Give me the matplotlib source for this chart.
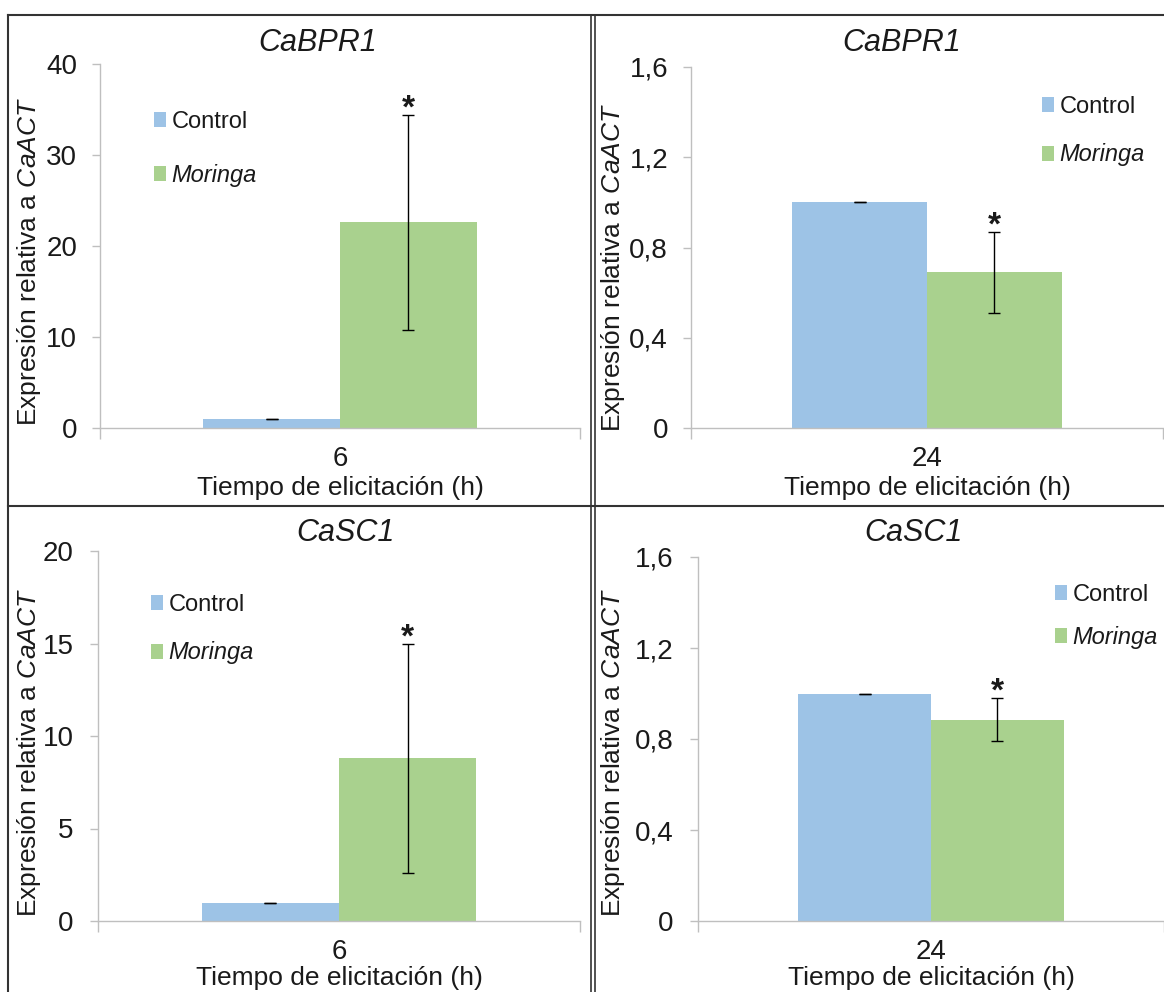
import matplotlib
matplotlib.use("Agg")
import matplotlib.pyplot as plt
from matplotlib.patches import Patch
from matplotlib.lines import Line2D
from matplotlib.ticker import FuncFormatter

# ---------------- data ----------------
titles = ["CaBPR1", "CaBPR1", "CaSC1", "CaSC1"]
times = ["6", "24", "6", "24"]
series = ["Control", "Moringa"]
control_vals = [1.0, 1.0, 1.0, 1.0]
control_err = [0.0, 0.0, 0.0, 0.0]
moringa_vals = [22.6, 0.69, 8.8, 0.885]
moringa_err = [11.8, 0.18, 6.2, 0.095]
ymax = [40, 1.6, 20, 1.6]
ystep = [10, 0.4, 5, 0.4]
ylabel_txt = r"Expresión relativa a $\it{CaACT}$"
xlabel_txt = "Tiempo de elicitación (h)"

plt.rcParams["font.family"] = ["Liberation Sans", "DejaVu Sans"]
plt.rcParams["mathtext.fontset"] = "custom"
plt.rcParams["mathtext.rm"] = "Liberation Sans"
plt.rcParams["mathtext.it"] = "Liberation Sans:italic"

W, H = 1164, 992
fig = plt.figure(figsize=(W / 100, H / 100), dpi=100)


def fx(x):
    return x / W


def fy(y):
    return 1 - y / H


C_BLUE = "#9DC3E6"
C_GREEN = "#A9D18E"
SPINE = "#BFBFBF"
TXT = "#1a1a1a"

# axes boxes in pixels: left, top, right, bottom
boxes = [(100, 64, 580, 428), (691, 67, 1163, 428),
         (98, 551, 580, 921), (698, 557, 1164, 921)]
title_pos = [(318, 43), (902, 43), (345, 533), (913, 533)]
ylabel_pos = [(43, 262), (627, 268), (43, 753), (627, 753)]
xlabel_y = [488, 488, 978, 978]
legend_pos = [(154, 111, 1.3), (1042, 96, 1.08), (151, 594, 1.08), (1055, 584, 0.85)]
ypad = [10.5, 10.5, 11.5, 11.5]

bw = 0.285
for i in range(4):
    l, t, r, b = boxes[i]
    ax = fig.add_axes([fx(l), fy(b), fx(r - l), (b - t) / H])
    ax.bar(-bw / 2, control_vals[i], width=bw, color=C_BLUE, zorder=2)
    ax.bar(bw / 2, moringa_vals[i], width=bw, color=C_GREEN, zorder=2)
    ax.errorbar([-bw / 2, bw / 2], [control_vals[i], moringa_vals[i]],
                yerr=[control_err[i], moringa_err[i]], fmt="none",
                ecolor="black", elinewidth=1, capsize=4, capthick=1, zorder=3)
    ax.annotate("*", xy=(bw / 2, moringa_vals[i] + moringa_err[i]),
                xytext=(0, -7), textcoords="offset points", ha="center",
                va="bottom", fontsize=24, fontweight="bold", color=TXT)
    ax.set_xlim(-0.5, 0.5)
    ax.set_ylim(0, ymax[i])
    n = int(round(ymax[i] / ystep[i]))
    ticks = [k * ystep[i] for k in range(n + 1)]
    ax.set_yticks(ticks)
    ax.yaxis.set_major_formatter(FuncFormatter(
        lambda v, p: ("%g" % round(v, 2)).replace(".", ",")))
    ax.set_xticks([0])
    ax.set_xticklabels([times[i]])
    ax.set_xticks([-0.5, 0.5], minor=True)
    ax.tick_params(axis="x", which="major", length=0, labelsize=20,
                   labelcolor=TXT, pad=13)
    ax.tick_params(axis="x", which="minor", length=8, color=SPINE, width=1)
    ax.tick_params(axis="y", length=6, color=SPINE, width=1, labelsize=20,
                   labelcolor=TXT, pad=ypad[i])
    for s in ["top", "right"]:
        ax.spines[s].set_visible(False)
    for s in ["left", "bottom"]:
        ax.spines[s].set_color(SPINE)
        ax.spines[s].set_linewidth(1)
    ax.set_ylabel(ylabel_txt, fontsize=19, color=TXT)
    ax.yaxis.set_label_coords(fx(ylabel_pos[i][0]), fy(ylabel_pos[i][1]),
                              transform=fig.transFigure)
    fig.text(fx(title_pos[i][0]), fy(title_pos[i][1]), titles[i],
             fontsize=22, fontstyle="italic", ha="center", va="center", color=TXT)
    fig.text(fx((l + r) / 2), fy(xlabel_y[i]), xlabel_txt, fontsize=19,
             ha="center", va="center", color=TXT)
    handles = [Patch(facecolor=C_BLUE), Patch(facecolor=C_GREEN)]
    lx, ly, ls = legend_pos[i]
    leg = ax.legend(handles, series, loc="upper left",
                    bbox_to_anchor=(fx(lx), fy(ly)),
                    bbox_transform=fig.transFigure, frameon=False,
                    fontsize=17, handlelength=0.5, handleheight=0.6,
                    handletextpad=0.25, labelspacing=ls, borderpad=0,
                    borderaxespad=0)
    leg.get_texts()[1].set_fontstyle("italic")
    for tx in leg.get_texts():
        tx.set_color(TXT)

# panel borders
BC = "#333333"
fig.add_artist(Line2D([fx(8), fx(W)], [fy(15), fy(15)], color=BC, lw=1.5))
fig.add_artist(Line2D([fx(8), fx(W)], [fy(506), fy(506)], color=BC, lw=1.5))
fig.add_artist(Line2D([fx(8), fx(8)], [fy(15), fy(H)], color=BC, lw=1.5))
fig.add_artist(Line2D([fx(591), fx(591)], [fy(15), fy(H)], color=BC, lw=1.2))
fig.add_artist(Line2D([fx(595), fx(595)], [fy(15), fy(H)], color=BC, lw=1.2))

fig.savefig("out.png", dpi=100)
